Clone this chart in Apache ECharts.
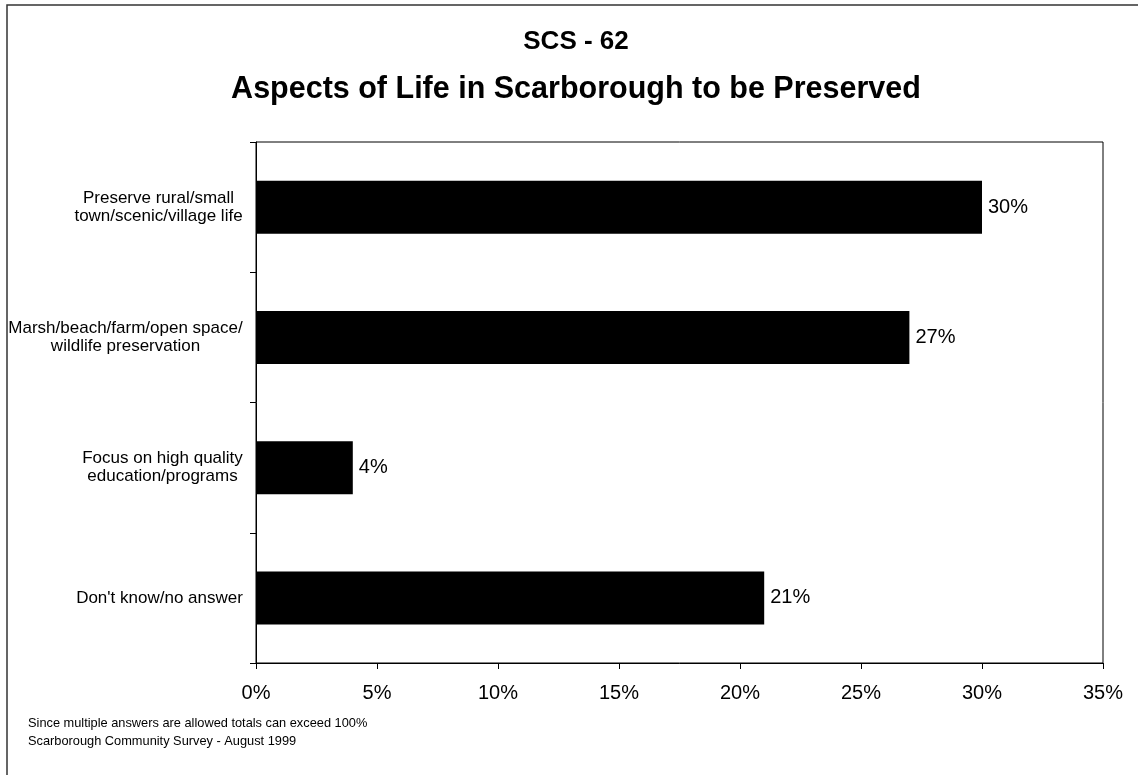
<!DOCTYPE html>
<html>
<head>
<meta charset="utf-8">
<title>SCS - 62</title>
<script src="https://cdn.jsdelivr.net/npm/echarts@6/dist/echarts.min.js"></script>
<style>
  html, body { margin: 0; padding: 0; background: #fff; }
  #chart { width: 1138px; height: 775px; }
</style>
</head>
<body>
<div id="chart"></div>
<script>
const categories = [
  "Preserve rural/small\ntown/scenic/village life",
  "Marsh/beach/farm/open space/\nwildlife preservation",
  "Focus on high quality\neducation/programs",
  "Don't know/no answer",
];
const values = [30, 27, 4, 21];
const xTicks = [0, 5, 10, 15, 20, 25, 30, 35];
const titleLines = ["SCS - 62", "Aspects of Life in Scarborough to be Preserved"];
const notes = [
  "Since multiple answers are allowed totals can exceed 100%",
  "Scarborough Community Survey - August 1999",
];

const fontFamily = '"Liberation Sans", Arial, sans-serif';
const labelSize = 17;

// measure each label so its lines can be centred inside a right-aligned block
const ctx = document.createElement("canvas").getContext("2d");
ctx.font = labelSize + "px " + fontFamily;
const rich = {};
categories.forEach((c, i) => {
  const w = Math.max(...c.split("\n").map((l) => ctx.measureText(l).width));
  rich["c" + i] = {
    width: Math.ceil(w),
    align: "center",
    fontSize: labelSize,
    lineHeight: 18,
    fontFamily,
    color: "#000",
  };
});

const chart = echarts.init(document.getElementById("chart"));
chart.setOption({
  animation: false,
  backgroundColor: "#fff",
  textStyle: { fontFamily },
  graphic: [
    {
      type: "rect",
      shape: { x: 7, y: 5, width: 1200, height: 900 },
      style: { fill: null, stroke: "#333", lineWidth: 1.5 },
      silent: true,
    },
    {
      type: "text",
      x: 576,
      y: 42,
      style: {
        text: titleLines[0],
        font: "bold 26px " + fontFamily,
        fill: "#000",
        align: "center",
        verticalAlign: "middle",
      },
    },
    {
      type: "text",
      x: 576,
      y: 90,
      style: {
        text: titleLines[1],
        font: "bold 30.5px " + fontFamily,
        fill: "#000",
        align: "center",
        verticalAlign: "middle",
      },
    },
    {
      type: "text",
      left: 28,
      top: 714,
      style: {
        text: notes.join("\n"),
        font: "12.8px " + fontFamily,
        lineHeight: 18,
        fill: "#000",
      },
    },
  ],
  grid: {
    left: 256,
    right: 35,
    top: 142,
    bottom: 112,
    show: true,
    borderColor: "#000",
    borderWidth: 1,
  },
  xAxis: {
    type: "value",
    min: xTicks[0],
    max: xTicks[xTicks.length - 1],
    interval: 5,
    axisLine: { show: true, lineStyle: { color: "#000", width: 1 } },
    axisTick: { show: true, length: 6, lineStyle: { color: "#000" } },
    splitLine: { show: false },
    axisLabel: {
      formatter: "{value}%",
      fontSize: 20,
      color: "#000",
      margin: 20,
      fontFamily,
    },
  },
  yAxis: {
    type: "category",
    inverse: true,
    data: categories,
    axisLine: { show: true, lineStyle: { color: "#000", width: 1 } },
    axisTick: { show: true, length: 6, lineStyle: { color: "#000" } },
    axisLabel: {
      margin: 13,
      formatter(value, index) {
        return value
          .split("\n")
          .map((l) => "{c" + index + "|" + l + "}")
          .join("\n");
      },
      rich,
    },
  },
  series: [
    {
      type: "bar",
      data: values,
      barWidth: 53,
      itemStyle: { color: "#000" },
      label: {
        show: true,
        position: "right",
        distance: 6,
        formatter: "{c}%",
        fontSize: 20,
        color: "#000",
        fontFamily,
      },
    },
  ],
});
</script>
</body>
</html>
